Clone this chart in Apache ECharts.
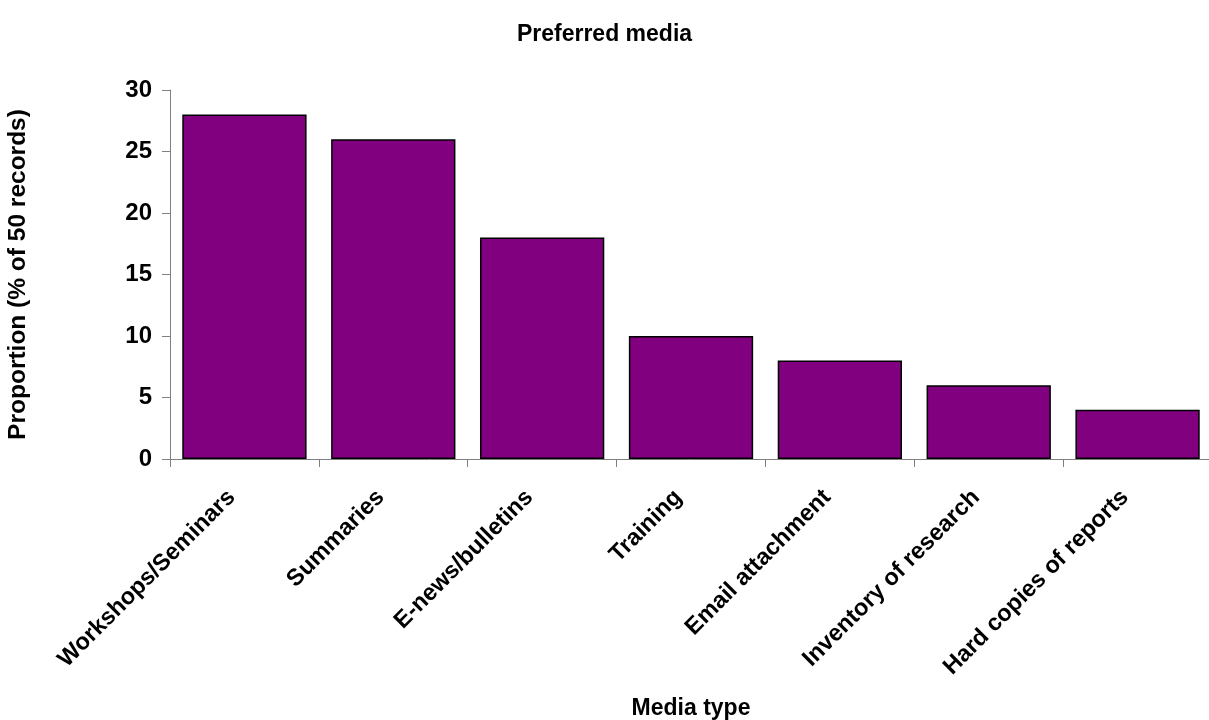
<!DOCTYPE html>
<html>
<head>
<meta charset="utf-8">
<script src="https://cdn.jsdelivr.net/npm/echarts@6/dist/echarts.min.js"></script>
<style>html,body{margin:0;padding:0;background:#fff}#c{width:1209px;height:720px}</style>
</head>
<body>
<div id="c"></div>
<script>
const categories = ["Workshops/Seminars", "Summaries", "E-news/bulletins", "Training", "Email attachment", "Inventory of research", "Hard copies of reports"];
const values = [28, 26, 18, 10, 8, 6, 4];
const yTicks = [0, 5, 10, 15, 20, 25, 30];

const font = "'Liberation Sans', Arial, sans-serif";
const chart = echarts.init(document.getElementById('c'));
chart.setOption({
  animation: false,
  backgroundColor: '#fff',
  title: {
    text: 'Preferred media', left: 'center', top: 18,
    textStyle: { fontFamily: font, fontWeight: 'bold', fontSize: 23, color: '#000' }
  },
  grid: { left: 170, right: -3, top: 90, bottom: 261, containLabel: false, outerBoundsMode: 'none' },
  xAxis: {
    type: 'category', data: categories,
    name: 'Media type', nameLocation: 'middle', nameGap: 238,
    nameTextStyle: { fontFamily: font, fontWeight: 'bold', fontSize: 23, color: '#000' },
    axisLine: { lineStyle: { color: '#808080', width: 1 } },
    axisTick: { show: true, length: 8, lineStyle: { color: '#808080' } },
    axisLabel: { rotate: 45, margin: 22, interval: 0, padding: [0, 18, 0, 0], fontFamily: font, fontWeight: 'bold', fontSize: 23.5, color: '#000' }
  },
  yAxis: {
    type: 'value', min: 0, max: 30, interval: 5,
    name: 'Proportion (% of 50 records)', nameLocation: 'middle', nameGap: 139,
    nameTextStyle: { fontFamily: font, fontWeight: 'bold', fontSize: 24.5, color: '#000' },
    axisLine: { show: true, lineStyle: { color: '#808080', width: 1 } },
    axisTick: { show: true, length: 8, lineStyle: { color: '#808080' } },
    splitLine: { show: false },
    axisLabel: { margin: 18, fontFamily: font, fontWeight: 'bold', fontSize: 24, color: '#000',
      formatter: v => yTicks.includes(v) ? String(v) : '' }
  },
  series: [{
    type: 'bar', data: values, barCategoryGap: '16.5%',
    itemStyle: { color: '#800080', borderColor: '#000', borderWidth: 1.5 }
  }]
});
</script>
</body>
</html>
